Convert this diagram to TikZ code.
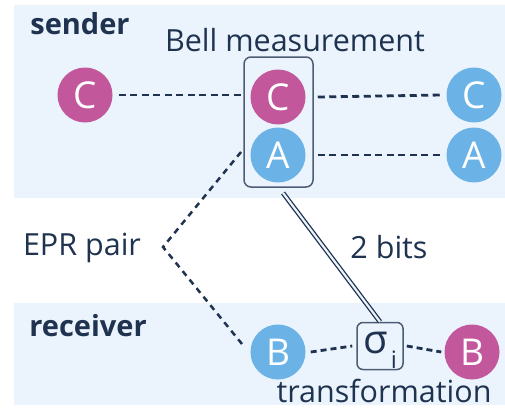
\documentclass[tikz,border=0pt]{standalone}
\usepackage{fontspec}
\setmainfont{Open Sans}
\definecolor{band}{HTML}{EBF4FC}
\definecolor{mag}{HTML}{C2579B}
\definecolor{blu}{HTML}{6BB3E6}
\definecolor{ink}{HTML}{1F3350}
\begin{document}
\begin{tikzpicture}[x=1pt,y=-1pt,
  qubit/.style={circle,minimum size=55pt,inner sep=0pt,text=white,font=\fontsize{37}{37}\selectfont},
  magq/.style={qubit,fill=mag},
  bluq/.style={qubit,fill=blu},
  lbl/.style={text=ink,font=\fontsize{30.5}{30.5}\selectfont,inner sep=0pt},
  blbl/.style={text=ink,font=\fontsize{29}{29}\selectfont\bfseries,inner sep=0pt},
  dsh/.style={draw=ink,line width=2.8pt,dash pattern=on 7pt off 4.5pt},
  frame/.style={draw=ink!80,line width=1.5pt,rounded corners=7pt}
]
\useasboundingbox (0,0) rectangle (505,415);
\fill[white] (0,0) rectangle (505,415);
\fill[band] (14,5) rectangle (505,198);
\fill[band] (14,303) rectangle (505,405);

\node[blbl] (snd) at (80,24) {sender};
\node[lbl] (bell) at (295,40) {Bell measurement};

\node[magq] (c1) at (85,95) {C};
\node[magq] (c2) at (278,97) {C};
\node[bluq] (c3) at (474,95) {C};
\node[bluq] (a2) at (278,155) {A};
\node[bluq] (a3) at (474,155) {A};

\node[frame,minimum width=69pt,minimum height=130pt] (box) at (278.5,122) {};

\draw[dsh] (c1.east) ++(6,0) -- (box.west |- c1.east);
\draw[dsh] (box.east |- c2.east) ++(4,0) -- ([xshift=-5pt]c3.west);
\draw[dsh] (box.east |- a2.east) ++(4,0) -- ([xshift=-5pt]a3.west);

\coordinate (top) at (241,152);
\coordinate (tip) at (163,247);
\coordinate (bot) at (242,344);
\draw[dsh,line width=2.5pt,dash pattern=on 6pt off 5pt] (top) -- (tip) -- (bot);

\node[lbl] (epr) at (82,248) {EPR pair};
\node[lbl] (bits) at (389,247) {2 bits};

\node[blbl] (rcv) at (88,326) {receiver};
\node[bluq] (b1) at (278,352) {B};
\node[magq] (b2) at (472,352) {B};
\node[frame,rounded corners=6pt,minimum width=46pt,minimum height=47pt,inner sep=0pt] (sig) at (380,346) {};
\node[text=ink,font=\fontsize{40}{40}\selectfont,inner sep=0pt] (sigt) at (376,343) {σ};
\node[text=ink,font=\fontsize{24}{24}\selectfont,inner sep=0pt] (sigi) at (394,360) {i};

\draw[ink,line width=4.8pt] (283,193) -- (sig.north);
\draw[band,line width=2.2pt] (283,193) -- (sig.north);
\draw[dsh,dash pattern=on 6pt off 4pt] ([xshift=5pt]b1.east) -- ([xshift=-4pt]sig.west);
\draw[dsh,dash pattern=on 6pt off 4pt] ([xshift=3pt]sig.east) -- ([xshift=-3pt]b2.west);

\node[lbl] (trf) at (384,391) {transformation};
\end{tikzpicture}
\end{document}
